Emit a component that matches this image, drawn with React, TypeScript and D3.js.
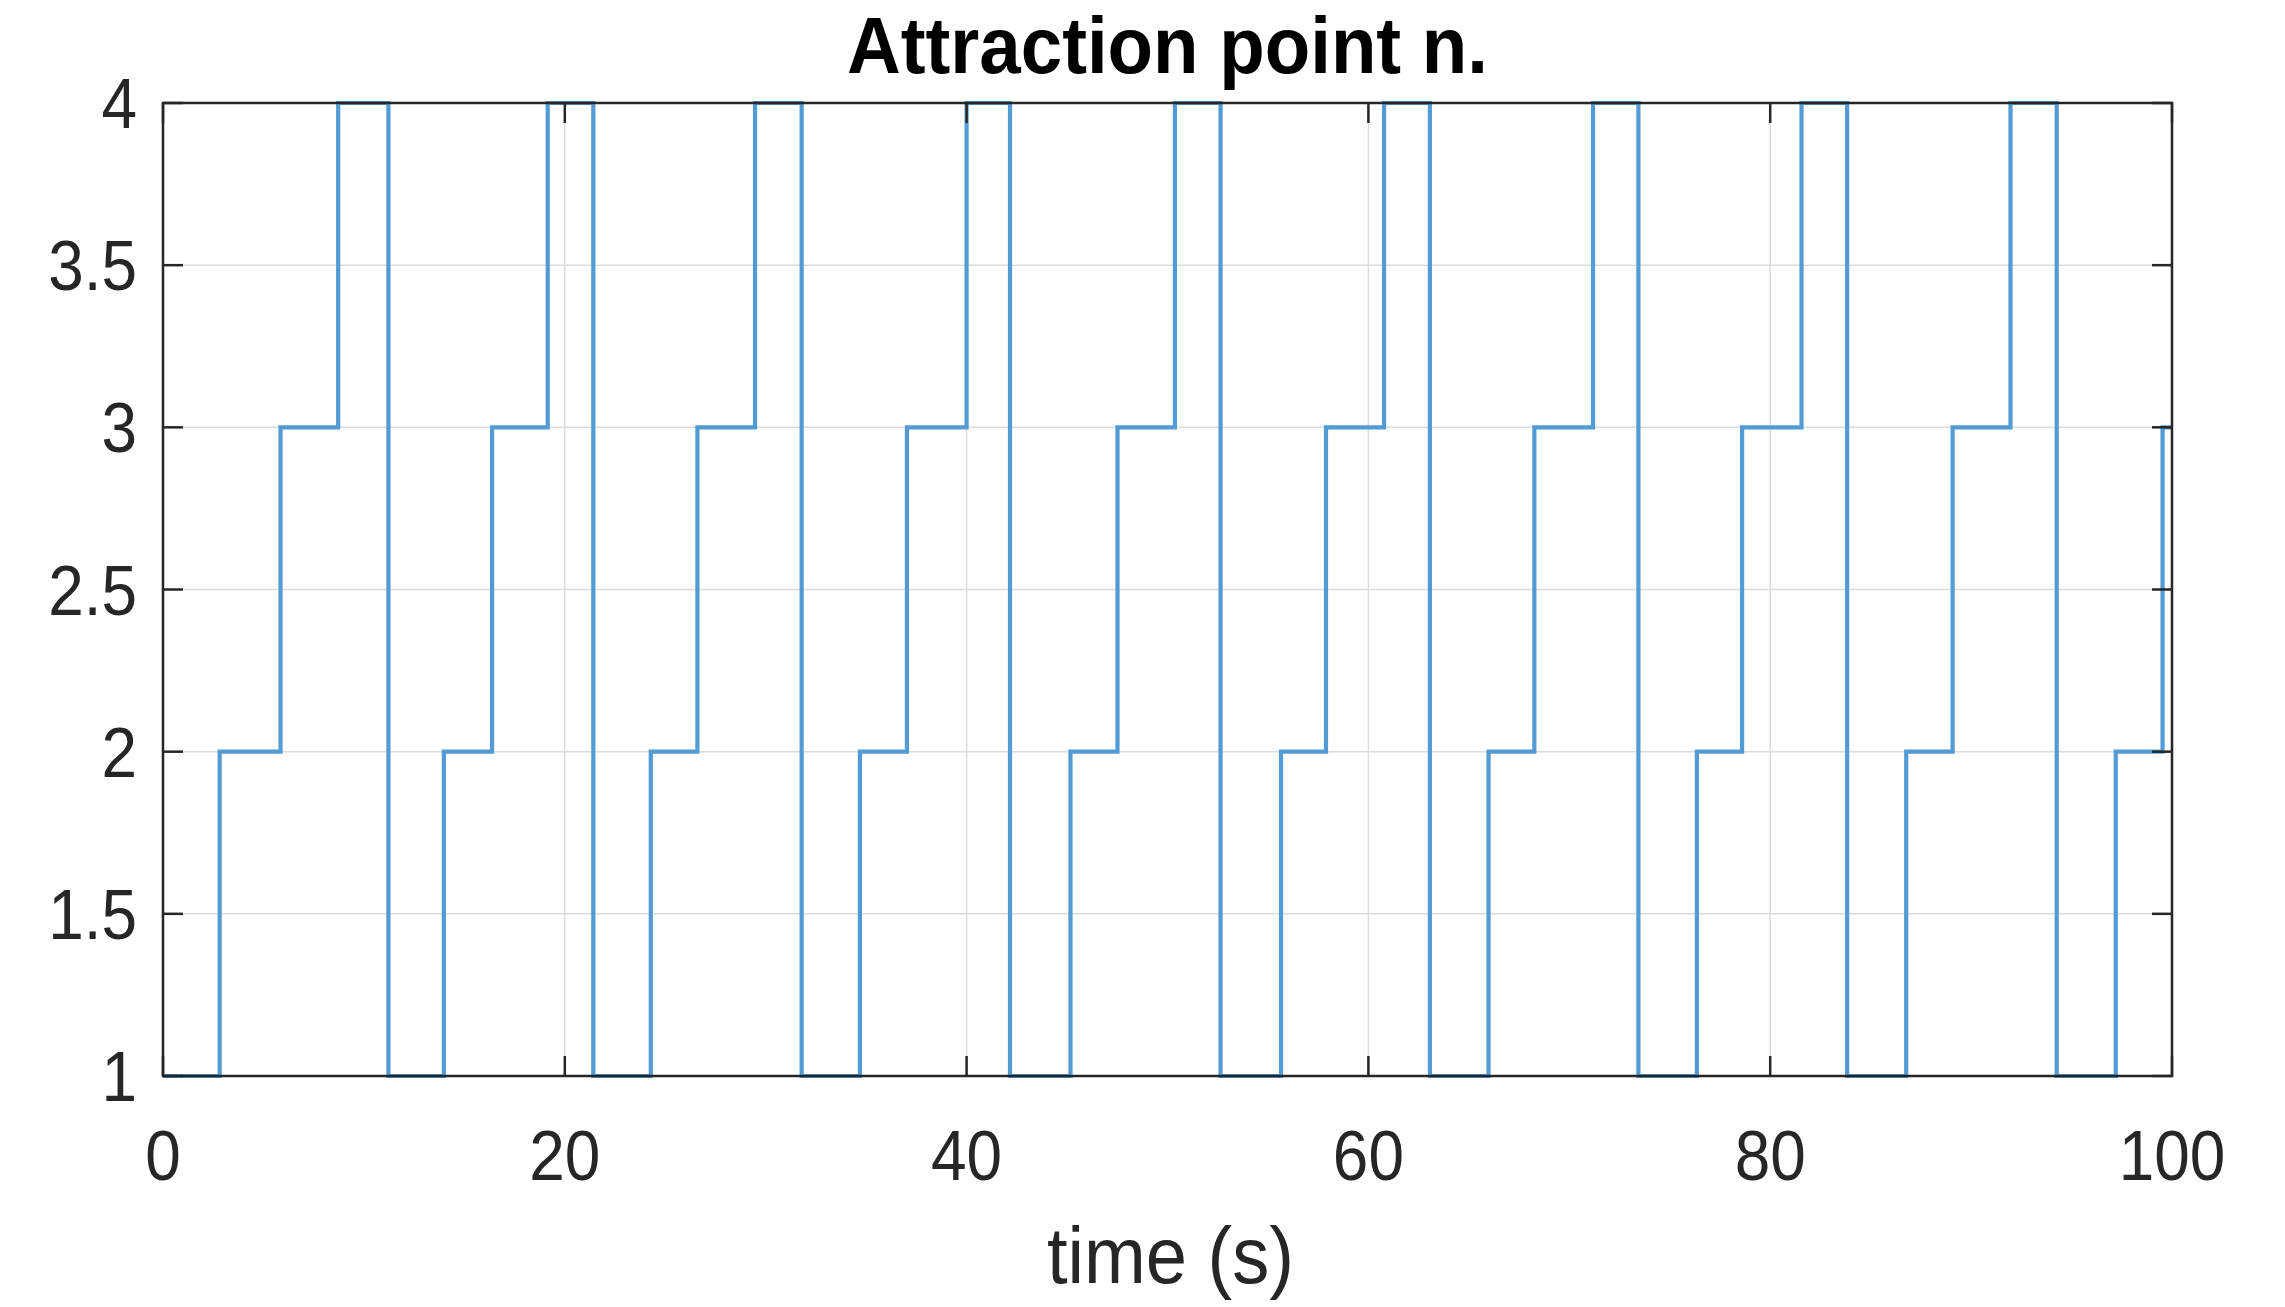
import React from "react";
import * as d3 from "d3";

// switching instants (s) and attraction point index held after each instant
const switchTimes = [
  0, 2.82, 5.85, 8.72, 11.22, 13.98, 16.38, 19.15, 21.42, 24.28, 26.6, 29.47,
  31.79, 34.69, 37.03, 40.0, 42.16, 45.17, 47.51, 50.37, 52.64, 55.65, 57.89,
  60.78, 63.06, 65.98, 68.26, 71.18, 73.44, 76.35, 78.6, 81.56, 83.83, 86.77,
  89.08, 91.96, 94.26, 97.2, 99.53, 100,
];
const pointIndex = [
  1, 2, 3, 4, 1, 2, 3, 4, 1, 2, 3, 4,
  1, 2, 3, 4, 1, 2, 3, 4, 1, 2, 3,
  4, 1, 2, 3, 4, 1, 2, 3, 4, 1, 2,
  3, 4, 1, 2, 3, 3,
];
const xTicks = [0, 20, 40, 60, 80, 100];
const yTicks = [1, 1.5, 2, 2.5, 3, 3.5, 4];

const chartTitle = "Attraction point n.";
const xLabel = "time (s)";

const W = 2285;
const H = 1307;
const margin = { top: 103, right: 113, bottom: 231, left: 163 };

export default function App() {
  const iw = W - margin.left - margin.right;
  const ih = H - margin.top - margin.bottom;

  const x = d3.scaleLinear().domain([0, 100]).range([0, iw]);
  const y = d3.scaleLinear().domain([1, 4]).range([ih, 0]);

  const data = switchTimes.map((t, i) => ({ t, v: pointIndex[i] }));
  const line = d3
    .line<{ t: number; v: number }>()
    .x((d) => x(d.t))
    .y((d) => y(d.v))
    .curve(d3.curveStepAfter);

  const font = "'Liberation Sans', Arial, Helvetica, sans-serif";
  const axisColor = "#262626";
  const tick = 20;
  const sx = 0.9; // labels in the figure are slightly condensed

  return (
    <svg
      width={W}
      height={H}
      style={{ position: "absolute", left: 0, top: 0, background: "#fff" }}
      fontFamily={font}
    >
      <rect width={W} height={H} fill="#fff" />
      <g transform={`translate(${margin.left},${margin.top})`}>
        {/* grid */}
        {xTicks.map((t) => (
          <line key={"gx" + t} x1={x(t)} x2={x(t)} y1={0} y2={ih} stroke="#dcdcdc" strokeWidth={1.5} />
        ))}
        {yTicks.map((t) => (
          <line key={"gy" + t} x1={0} x2={iw} y1={y(t)} y2={y(t)} stroke="#dcdcdc" strokeWidth={1.5} />
        ))}

        <path d={line(data) ?? ""} fill="none" stroke="#539bd4" strokeWidth={4.2} />

        {/* box */}
        <rect x={0} y={0} width={iw} height={ih} fill="none" stroke={axisColor} strokeWidth={2.5} />

        {/* ticks */}
        {xTicks.map((t) => (
          <g key={"tx" + t}>
            <line x1={x(t)} x2={x(t)} y1={ih} y2={ih - tick} stroke={axisColor} strokeWidth={2.5} />
            <line x1={x(t)} x2={x(t)} y1={0} y2={tick} stroke={axisColor} strokeWidth={2.5} />
            <text
              transform={`translate(${x(t)},${ih + 104}) scale(${sx},1)`}
              textAnchor="middle"
              fontSize={71}
              fill={axisColor}
            >
              {t}
            </text>
          </g>
        ))}
        {yTicks.map((t) => (
          <g key={"ty" + t}>
            <line x1={0} x2={tick} y1={y(t)} y2={y(t)} stroke={axisColor} strokeWidth={2.5} />
            <line x1={iw} x2={iw - tick} y1={y(t)} y2={y(t)} stroke={axisColor} strokeWidth={2.5} />
            <text
              transform={`translate(-26,${y(t) + 25}) scale(${sx},1)`}
              textAnchor="end"
              fontSize={71}
              fill={axisColor}
            >
              {t}
            </text>
          </g>
        ))}

        <text
          x={iw / 2}
          y={-30}
          textAnchor="middle"
          fontSize={80}
          fontWeight="bold"
          fill="#000"
          textLength={641}
          lengthAdjust="spacingAndGlyphs"
        >
          {chartTitle}
        </text>
        <text
          x={iw / 2 + 3}
          y={ih + 207}
          textAnchor="middle"
          fontSize={80}
          fill={axisColor}
          textLength={247}
          lengthAdjust="spacingAndGlyphs"
        >
          {xLabel}
        </text>
      </g>
    </svg>
  );
}
